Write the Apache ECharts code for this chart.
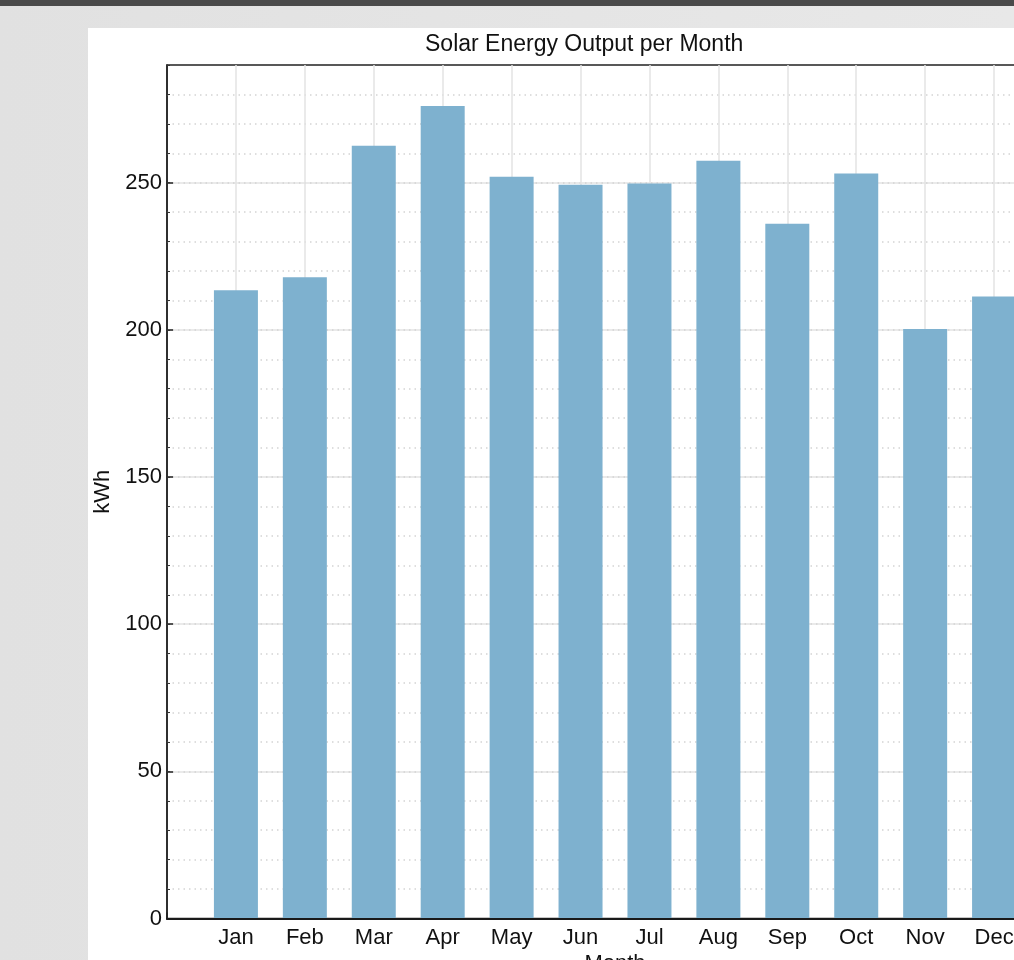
<!DOCTYPE html>
<html>
<head>
<meta charset="utf-8">
<title>Solar Energy Output per Month</title>
<script src="https://cdn.jsdelivr.net/npm/echarts@6.0.0/dist/echarts.min.js"></script>
<style>
html, body { margin: 0; padding: 0; width: 1014px; height: 960px; overflow: hidden; }
body { position: relative; background: linear-gradient(to right, #e1e1e1, #e8e8e8); }
#topbar { position: absolute; left: 0; top: 0; width: 1014px; height: 6px; background: #4a4a4a; }
#panel { position: absolute; left: 88px; top: 28px; width: 1100px; height: 1000px; background: #fff; }
</style>
</head>
<body>
<div id="topbar"></div>
<div id="panel"></div>
<script>
// months on the x axis (positions 1..12)
const months = ['Jan', 'Feb', 'Mar', 'Apr', 'May', 'Jun', 'Jul', 'Aug', 'Sep', 'Oct', 'Nov', 'Dec']
// energy output, kWh
const output = [213.5, 217.9, 262.6, 276.1, 252.0, 249.3, 249.7, 257.5, 236.1, 253.1, 200.3, 211.3]
// y tick labels
const yTicks = [0, 50, 100, 150, 200, 250]

const font = 'Liberation Sans, Arial, Helvetica, sans-serif'
const chart = echarts.init(document.getElementById('panel'))

const data = months.map((m, i) => [i + 1, output[i]])

const option = {
    animation: false,
    backgroundColor: '#fff',
    title: {
        text: 'Solar Energy Output per Month',
        left: 337,
        top: 5,
        padding: 0,
        textStyle: { fontFamily: font, fontSize: 23, fontWeight: 'normal', color: '#111' }
    },
    grid: {
        left: 79,
        top: 37,
        right: 125,
        bottom: 109.5,
        show: true,
        borderColor: '#222',
        borderWidth: 1.5,
        backgroundColor: '#fff',
        outerBoundsMode: 'none'
    },
    xAxis: [
        {
            type: 'value',
            min: 0,
            max: 13,
            interval: 1,
            name: 'Month',
            nameLocation: 'middle',
            nameGap: 34,
            nameTextStyle: { fontFamily: font, fontSize: 22, color: '#111' },
            axisLine: { show: true, lineStyle: { color: '#222', width: 1.5 } },
            axisTick: { inside: true, length: 6, lineStyle: { color: '#222', width: 1.5 } },
            axisLabel: {
                margin: 8,
                fontFamily: font,
                fontSize: 22,
                color: '#111',
                formatter: v => (v >= 1 && v <= months.length) ? months[v - 1] : ''
            },
            splitLine: { show: true, showMinLine: false, lineStyle: { color: '#e3e3e3', width: 1.5 } }
        },
        {
            // top edge of the box
            type: 'value',
            position: 'top',
            min: 0,
            max: 13,
            z: 10,
            axisLine: { show: true, lineStyle: { color: '#1a1a1a', width: 2 } },
            axisTick: { show: false },
            axisLabel: { show: false },
            splitLine: { show: false }
        }
    ],
    yAxis: [
        {
            type: 'value',
            min: yTicks[0],
            max: 290,
            interval: yTicks[1] - yTicks[0],
            name: 'kWh',
            nameLocation: 'middle',
            nameGap: 51,
            nameRotate: 90,
            nameTextStyle: { fontFamily: font, fontSize: 22, color: '#111' },
            axisLine: { show: true, lineStyle: { color: '#222', width: 1.5 } },
            axisTick: { inside: true, length: 6, lineStyle: { color: '#222', width: 1.5 } },
            axisLabel: {
                margin: 5,
                showMaxLabel: false,
                fontFamily: font,
                fontSize: 22,
                color: '#111',
                formatter: v => yTicks.indexOf(v) >= 0 ? String(v) : ''
            },
            splitLine: { show: true, showMinLine: false, showMaxLine: false, lineStyle: { color: '#e3e3e3', width: 1.5 } }
        },
        {
            // minor grid, every 10 kWh
            type: 'value',
            position: 'left',
            min: 0,
            max: 290,
            interval: 10,
            axisLine: { show: false },
            axisLabel: { show: false },
            axisTick: { inside: true, length: 3, lineStyle: { color: '#333', width: 1 } },
            splitLine: { show: true, showMinLine: false, showMaxLine: false, lineStyle: { color: '#d4d4d4', width: 1.5, type: [1.5, 4] } }
        }
    ],
    series: [
        {
            type: 'bar',
            xAxisIndex: 0,
            yAxisIndex: 0,
            barWidth: 44,
            itemStyle: { color: '#7eb1cf' },
            data: data
        }
    ]
}
chart.setOption(option)
</script>
</body>
</html>
